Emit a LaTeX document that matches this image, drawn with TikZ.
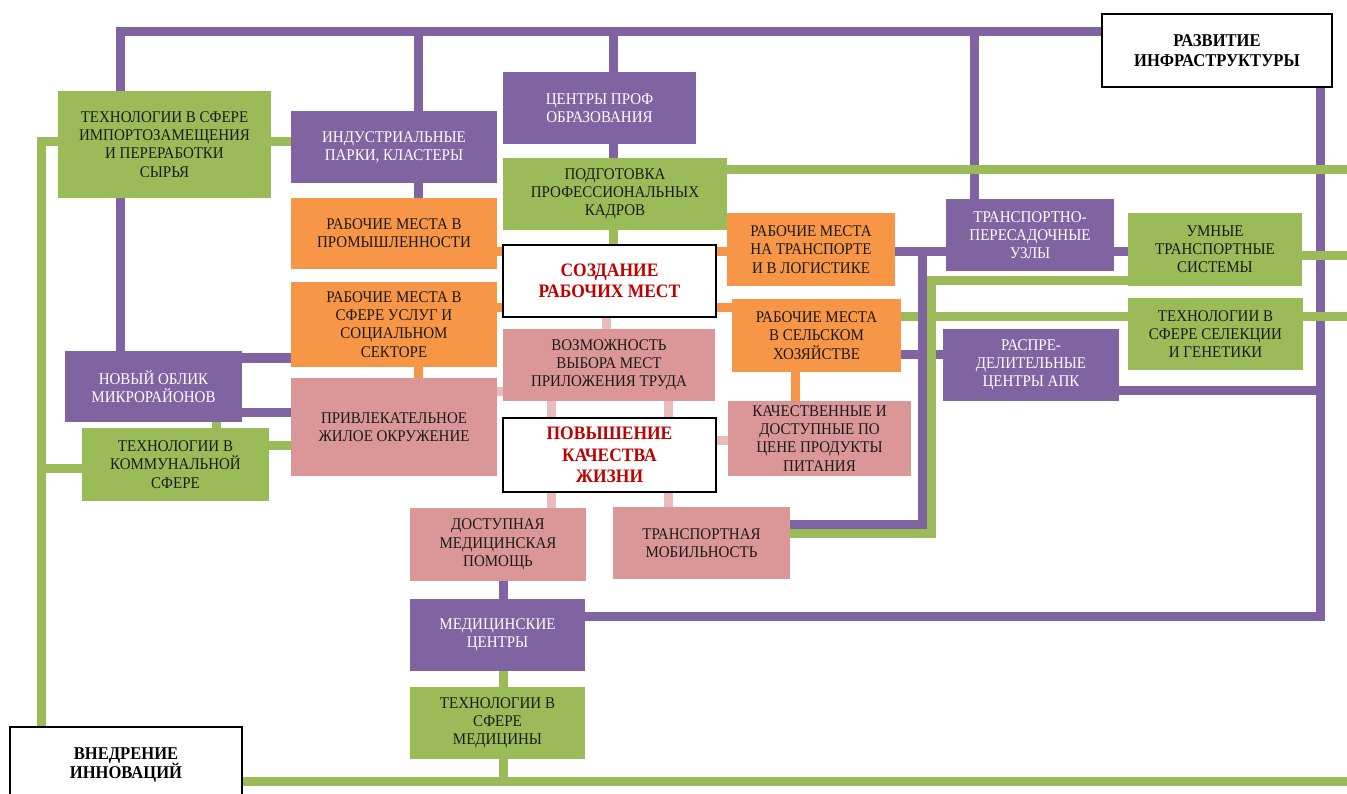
\documentclass[tikz,border=0pt]{standalone}
\usepackage{fontspec}
\setmainfont{Liberation Serif}[FakeStretch=0.92]
\usetikzlibrary{calc}
\definecolor{cpurple}{HTML}{8064A2}
\definecolor{cgreen}{HTML}{9BBB59}
\definecolor{corange}{HTML}{F79646}
\definecolor{cpink}{HTML}{DB9797}
\definecolor{clpink}{HTML}{E8BCBB}
\definecolor{cred}{HTML}{C00000}
\definecolor{ctext}{HTML}{1A1A1A}
\pgfdeclarelayer{bg}
\pgfsetlayers{bg,main}
\newcommand\bx[7]{\node[#6, minimum width={(#4-#2)*1pt}, minimum height={(#5-#3)*1pt}] (#1) at ({(#2+#4)/2},{(#3+#5)/2}) {#7};}
\tikzset{
  bxs/.style={rectangle, inner sep=0pt, align=center, text=ctext, font=\fontsize{16.3}{18.2}\selectfont},
  gbox/.style={bxs, fill=cgreen},
  pbox/.style={bxs, fill=cpurple, text=white},
  obox/.style={bxs, fill=corange},
  kbox/.style={bxs, fill=cpink},
  wbox/.style={bxs, fill=white, draw=black, line width=1.3pt},
  redtext/.style={text=cred, font=\bfseries\fontsize{19}{21.5}\selectfont},
  hdtext/.style={text=black, font=\bfseries\fontsize{18}{19.5}\selectfont},
  lnbase/.style={line width=9pt, line join=miter},
  pline/.style={lnbase, draw=cpurple},
  gline/.style={lnbase, draw=cgreen},
  oline/.style={lnbase, draw=corange},
  kline/.style={lnbase, draw=clpink}
}
\begin{document}
\begin{tikzpicture}[x=1pt,y=-1pt]
\useasboundingbox (0,0) rectangle (1347,794);
\clip (0,0) rectangle (1347,794);
% boxes
\bx{imp}{58}{91}{271}{198}{gbox}{ТЕХНОЛОГИИ В СФЕРЕ\\ИМПОРТОЗАМЕЩЕНИЯ\\И ПЕРЕРАБОТКИ\\СЫРЬЯ}
\bx{ind}{291}{111}{497}{183}{pbox}{ИНДУСТРИАЛЬНЫЕ\\ПАРКИ, КЛАСТЕРЫ}
\bx{cpo}{503}{72}{696}{144}{pbox}{ЦЕНТРЫ ПРОФ\\ОБРАЗОВАНИЯ}
\bx{pod}{503}{158}{727}{230}{gbox}{ПОДГОТОВКА\\ПРОФЕССИОНАЛЬНЫХ\\КАДРОВ}
\bx{prom}{291}{198}{497}{269}{obox}{РАБОЧИЕ МЕСТА В\\ПРОМЫШЛЕННОСТИ}
\bx{soz}{503}{245}{716}{317}{wbox,redtext}{СОЗДАНИЕ\\РАБОЧИХ МЕСТ}
\bx{trw}{727}{213}{895}{286}{obox}{РАБОЧИЕ МЕСТА\\НА ТРАНСПОРТЕ\\И В ЛОГИСТИКЕ}
\bx{tpu}{946}{199}{1114}{271}{pbox}{ТРАНСПОРТНО-\\ПЕРЕСАДОЧНЫЕ\\УЗЛЫ}
\bx{umn}{1128}{213}{1302}{286}{gbox}{УМНЫЕ\\ТРАНСПОРТНЫЕ\\СИСТЕМЫ}
\bx{raz}{1102}{14}{1332}{87}{wbox,hdtext}{РАЗВИТИЕ\\ИНФРАСТРУКТУРЫ}
\bx{usl}{291}{282}{497}{367}{obox}{РАБОЧИЕ МЕСТА В\\СФЕРЕ УСЛУГ И\\СОЦИАЛЬНОМ\\СЕКТОРЕ}
\bx{sel}{732}{299}{901}{372}{obox}{РАБОЧИЕ МЕСТА\\В СЕЛЬСКОМ\\ХОЗЯЙСТВЕ}
\bx{rcp}{943}{329}{1119}{401}{pbox}{РАСПРЕ-\\ДЕЛИТЕЛЬНЫЕ\\ЦЕНТРЫ АПК}
\bx{gen}{1128}{298}{1303}{370}{gbox}{ТЕХНОЛОГИИ В\\СФЕРЕ СЕЛЕКЦИИ\\И ГЕНЕТИКИ}
\bx{nov}{65}{351}{242}{422}{pbox}{НОВЫЙ ОБЛИК\\МИКРОРАЙОНОВ}
\bx{voz}{503}{329}{715}{401}{kbox}{ВОЗМОЖНОСТЬ\\ВЫБОРА МЕСТ\\ПРИЛОЖЕНИЯ ТРУДА}
\bx{pri}{291}{378}{497}{476}{kbox}{ПРИВЛЕКАТЕЛЬНОЕ\\ЖИЛОЕ ОКРУЖЕНИЕ}
\bx{kom}{82}{428}{269}{501}{gbox}{ТЕХНОЛОГИИ В\\КОММУНАЛЬНОЙ\\СФЕРЕ}
\bx{pov}{503}{418}{716}{492}{wbox,redtext}{ПОВЫШЕНИЕ\\КАЧЕСТВА\\ЖИЗНИ}
\bx{kac}{728}{401}{911}{476}{kbox}{КАЧЕСТВЕННЫЕ И\\ДОСТУПНЫЕ ПО\\ЦЕНЕ ПРОДУКТЫ\\ПИТАНИЯ}
\bx{dmp}{410}{508}{586}{581}{kbox}{ДОСТУПНАЯ\\МЕДИЦИНСКАЯ\\ПОМОЩЬ}
\bx{tmb}{613}{507}{790}{579}{kbox}{ТРАНСПОРТНАЯ\\МОБИЛЬНОСТЬ}
\bx{med}{410}{599}{585}{671}{pbox}{МЕДИЦИНСКИЕ\\ЦЕНТРЫ}
\bx{tmd}{410}{687}{585}{759}{gbox}{ТЕХНОЛОГИИ В\\СФЕРЕ\\МЕДИЦИНЫ}
\bx{vne}{10}{727}{242}{803}{wbox,hdtext}{ВНЕДРЕНИЕ\\ИННОВАЦИЙ}
% reference coordinates
\coordinate (tl) at (120,32);
\coordinate (t418) at (418,32);
\coordinate (t613) at (613,32);
\coordinate (t974) at (974,32);
\coordinate (rv) at (1320,616);
\coordinate (pv) at (922,524);
\coordinate (gv) at (931,533);
\coordinate (gL) at (41,142);
\coordinate (bot) at (503,781);
\coordinate (eA) at (1347,170);
\coordinate (eB) at (1347,256);
\coordinate (eC) at (1347,317);
\coordinate (eD) at (1347,781);
\coordinate (y252) at (0,252);
\coordinate (y281) at (0,281);
\coordinate (y308) at (0,308);
\coordinate (y317) at (0,317);
\coordinate (y355) at (0,355);
\coordinate (y358) at (0,358);
\coordinate (y390) at (0,390);
\coordinate (y391) at (0,391);
\coordinate (y412) at (0,412);
\coordinate (y440) at (0,440);
\coordinate (y445) at (0,445);
\coordinate (y468) at (0,468);
\coordinate (m216) at (216,0);
\coordinate (m503) at (503,0);
\coordinate (m551) at (551,0);
\coordinate (m606) at (606,0);
\coordinate (m668) at (668,0);
\coordinate (m795) at (795,0);
\begin{pgfonlayer}{bg}
% green under purple
\draw[gline] (sel.east |- y317) -- (gen.west |- y317);
% purple
\draw[pline] (tl |- nov.north) -- (tl) -- (raz.west |- tl);
\draw[pline] (t418) -- (t418 |- ind.north);
\draw[pline] (t418 |- ind.south) -- (t418 |- prom.north);
\draw[pline] (t613) -- (t613 |- cpo.north);
\draw[pline] (t613 |- cpo.south) -- (t613 |- pod.north);
\draw[pline] (t974) -- (t974 |- tpu.north);
\draw[pline] (rv |- raz.south) -- (rv) -- (med.east |- rv);
\draw[pline] (rcp.east |- y390) -- (rv |- y390);
\draw[pline] (trw.east |- y252) -- (tpu.west |- y252);
\draw[pline] (tpu.east |- y252) -- (umn.west |- y252);
\draw[pline] (pv |- y252) -- (pv) -- (tmb.east |- pv);
\draw[pline] (sel.east |- y355) -- (rcp.west |- y355);
\draw[pline] (nov.east |- y358) -- (usl.west |- y358);
\draw[pline] (nov.east |- y412) -- (pri.west |- y412);
\draw[pline] (m503 |- dmp.south) -- (m503 |- med.north);
% green
\draw[gline] (imp.west |- gL) -- (gL) -- (gL |- vne.north);
\draw[gline] (imp.east |- gL) -- (ind.west |- gL);
\draw[gline] (m216 |- nov.south) -- (m216 |- kom.north);
\draw[gline] (kom.east |- y445) -- (pri.west |- y445);
\draw[gline] (gL |- y468) -- (kom.west |- y468);
\draw[gline] (t613 |- pod.south) -- (t613 |- soz.north);
\draw[gline] (m503 |- med.south) -- (m503 |- tmd.north);
\draw[gline] (m503 |- tmd.south) -- (bot);
\draw[gline] (vne.east |- bot) -- (eD);
\draw[gline] (pod.east |- eA) -- (eA);
\draw[gline] (umn.east |- eB) -- (eB);
\draw[gline] (gen.east |- eC) -- (eC);
\draw[gline] (umn.west |- y281) -- (gv |- y281) -- (gv) -- (tmb.east |- gv);
% orange
\draw[oline] (prom.east |- y252) -- (soz.west |- y252);
\draw[oline] (soz.east |- y252) -- (trw.west |- y252);
\draw[oline] (usl.east |- y308) -- (soz.west |- y308);
\draw[oline] (soz.east |- y308) -- (sel.west |- y308);
\draw[oline] (t418 |- usl.south) -- (t418 |- pri.north);
\draw[oline] (m795 |- sel.south) -- (m795 |- kac.north);
% light pink
\draw[kline] (m606 |- soz.south) -- (m606 |- voz.north);
\draw[kline] (pri.east |- y391) -- (voz.west |- y391);
\draw[kline] (m551 |- voz.south) -- (m551 |- pov.north);
\draw[kline] (m668 |- voz.south) -- (m668 |- pov.north);
\draw[kline] (pov.east |- y440) -- (kac.west |- y440);
\draw[kline] (m551 |- pov.south) -- (m551 |- dmp.north);
\draw[kline] (m668 |- pov.south) -- (m668 |- tmb.north);
\end{pgfonlayer}
\end{tikzpicture}
\end{document}
